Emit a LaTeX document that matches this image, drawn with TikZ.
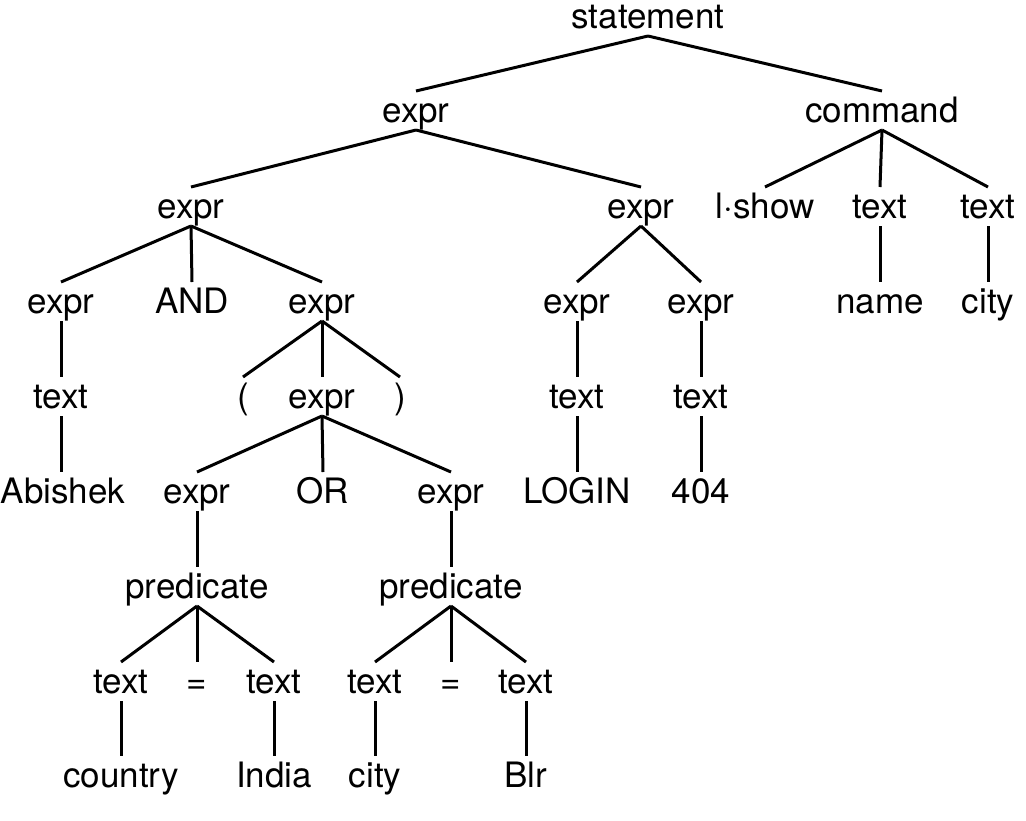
\documentclass[tikz,border=0pt]{standalone}
\usepackage{fontspec}
\setmainfont{TeX Gyre Heros}
\newcommand\tedge[2]{\draw[edge] ([yshift=-8pt]#1.base) -- ([yshift=31pt]#2.base);}
\begin{document}
\begin{tikzpicture}[x=1pt,y=-1pt,
  every node/.style={inner sep=0pt, anchor=base, font=\fontsize{35}{40}\selectfont},
  edge/.style={line width=3pt}]
\path[use as bounding box] (0,0) rectangle (1026,820);
% row 1
\node (st) at (648,28) {statement};
% row 2
\node (e2) at (416,122) {expr};
\node (cmd) at (882,122) {command};
% row 3
\node (e3a) at (191,218) {expr};
\node (e3b) at (641,218) {expr};
\node (ls) at (765,218) {l·show};
\node (t3c) at (880,218) {text};
\node (t3d) at (988,218) {text};
% row 4
\node (e4a) at (61,313) {expr};
\node (and) at (192,313) {AND};
\node (e4b) at (322,313) {expr};
\node (e4c) at (577,313) {expr};
\node (e4d) at (701,313) {expr};
\node (name) at (880,313) {name};
\node (cityA) at (988,313) {city};
% row 5
\node (t5a) at (61,408) {text};
\node (lp) at (243,408) {(};
\node (e5) at (322,408) {expr};
\node (rp) at (400,408) {)};
\node (t5c) at (577,408) {text};
\node (t5d) at (701,408) {text};
% row 6
\node (abi) at (63,503) {Abishek};
\node (e6a) at (197,503) {expr};
\node (or) at (323,503) {OR};
\node (e6b) at (451,503) {expr};
\node (login) at (577,503) {LOGIN};
\node (nf) at (701,503) {404};
% row 7
\node (p1) at (197,598) {predicate};
\node (p2) at (451,598) {predicate};
% row 8
\node (t8a) at (121,693) {text};
\node (eq1) at (197,693) {=};
\node (t8b) at (274,693) {text};
\node (t8c) at (375,693) {text};
\node (eq2) at (451,693) {=};
\node (t8d) at (526,693) {text};
% row 9
\node (country) at (121,787) {country};
\node (india) at (274,787) {India};
\node (cityB) at (375,787) {city};
\node (blr) at (526,787) {Blr};
% edges
\tedge{st}{e2}\tedge{st}{cmd}
\tedge{e2}{e3a}\tedge{e2}{e3b}
\tedge{cmd}{ls}\tedge{cmd}{t3c}\tedge{cmd}{t3d}
\tedge{e3a}{e4a}\tedge{e3a}{and}\tedge{e3a}{e4b}
\tedge{e3b}{e4c}\tedge{e3b}{e4d}
\tedge{t3c}{name}\tedge{t3d}{cityA}
\draw[edge] ([yshift=-8pt]e4a.base) -- ([yshift=31pt]t5a.base);
\draw[edge] ([yshift=-8pt]t5a.base) -- ([xshift=-2pt,yshift=31pt]abi.base);
\tedge{e4b}{lp}\tedge{e4b}{e5}\tedge{e4b}{rp}
\tedge{e4c}{t5c}\tedge{e4d}{t5d}
\tedge{e5}{e6a}\tedge{e5}{or}\tedge{e5}{e6b}
\tedge{t5c}{login}\tedge{t5d}{nf}
\tedge{e6a}{p1}\tedge{e6b}{p2}
\tedge{p1}{t8a}\tedge{p1}{eq1}\tedge{p1}{t8b}
\tedge{p2}{t8c}\tedge{p2}{eq2}\tedge{p2}{t8d}
\tedge{t8a}{country}\tedge{t8b}{india}\tedge{t8c}{cityB}\tedge{t8d}{blr}
\end{tikzpicture}
\end{document}
